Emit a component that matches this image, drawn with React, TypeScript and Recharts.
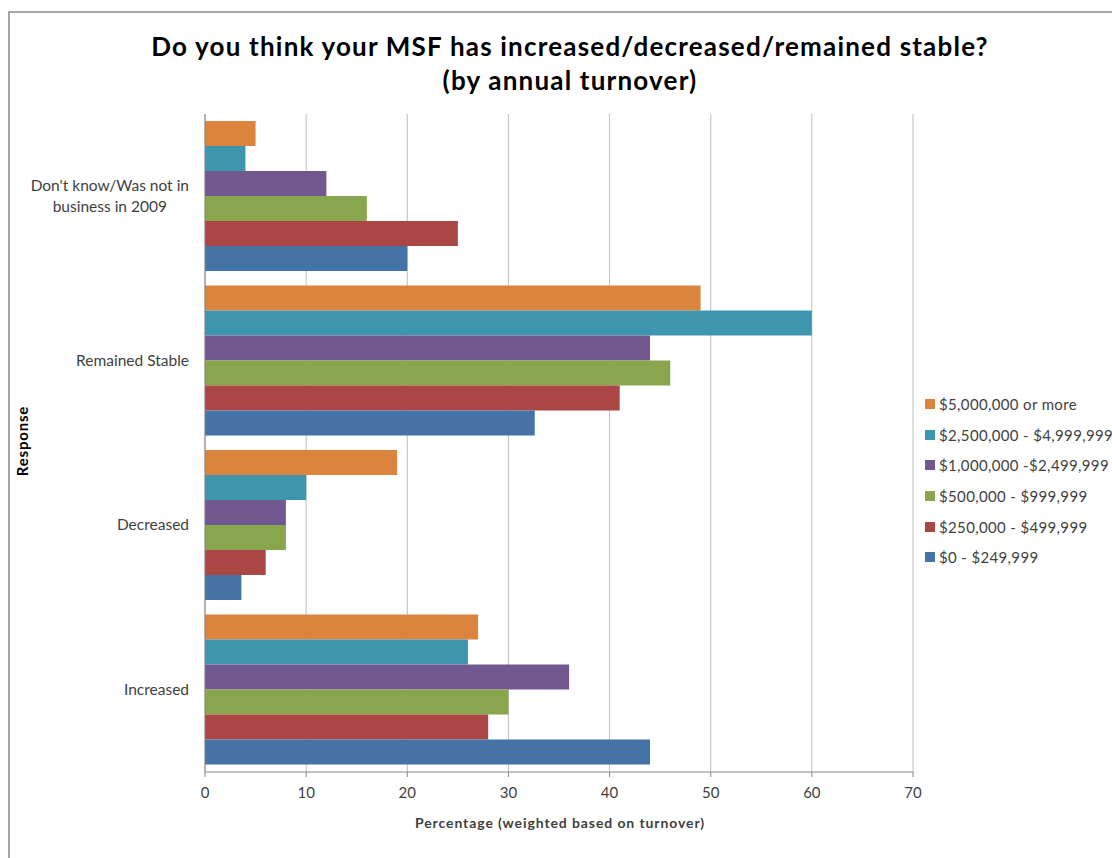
import React from "react"
import { BarChart, Bar, XAxis, YAxis, CartesianGrid } from "recharts"

const responses = ["Don't know/Was not in business in 2009", "Remained Stable", "Decreased", "Increased"]

// percentage per response, one array per turnover band
const over5m = [5, 49, 19, 27]
const from2_5m = [4, 60, 10, 26]
const from1m = [12, 44, 8, 36]
const from500k = [16, 46, 8, 30]
const from250k = [25, 41, 6, 28]
const upTo250k = [20, 32.6, 3.6, 44]

const xTicks = [0, 10, 20, 30, 40, 50, 60, 70]

const series = [
  { key: "over5m", name: "$5,000,000 or more", color: "#DB843D", values: over5m },
  { key: "from2_5m", name: "$2,500,000 - $4,999,999", color: "#3D96AE", values: from2_5m },
  { key: "from1m", name: "$1,000,000 -$2,499,999", color: "#71588F", values: from1m },
  { key: "from500k", name: "$500,000 - $999,999", color: "#89A54E", values: from500k },
  { key: "from250k", name: "$250,000 - $499,999", color: "#AA4643", values: from250k },
  { key: "upTo250k", name: "$0 - $249,999", color: "#4572A7", values: upTo250k },
]

const data = responses.map((r, i) => {
  const row: Record<string, string | number> = { response: r }
  series.forEach((s) => (row[s.key] = s.values[i]))
  return row
})

const FONT = "Lato, 'Open Sans', sans-serif"
const TEXT = "#3f3f3f"
const LABEL_SIZE = 15.5

let ctx: CanvasRenderingContext2D | null = null
function measure(text: string, font: string) {
  if (!ctx) ctx = document.createElement("canvas").getContext("2d")
  if (!ctx) return text.length * 7
  ctx.font = font
  return ctx.measureText(text).width
}

function wrap(text: string, max: number) {
  const words = text.split(" ")
  const lines: string[] = []
  let cur = ""
  words.forEach((w) => {
    const next = cur ? cur + " " + w : w
    if (next.length > max && cur) {
      lines.push(cur)
      cur = w
    } else cur = next
  })
  if (cur) lines.push(cur)
  return lines
}

function ResponseTick(props: any) {
  const { x, y, payload } = props
  const lines = wrap(String(payload.value), 22)
  const font = `${LABEL_SIZE}px ${FONT}`
  if (lines.length === 1) {
    return (
      <text x={x} y={y} dy={5} textAnchor="end" fill={TEXT} fontSize={LABEL_SIZE} fontFamily={FONT}>
        {lines[0]}
      </text>
    )
  }
  const w = Math.max(...lines.map((l) => measure(l, font)))
  const cx = x - w / 2
  const lh = 21
  const start = y - ((lines.length - 1) * lh) / 2 + 5
  return (
    <text textAnchor="middle" fill={TEXT} fontSize={LABEL_SIZE} fontFamily={FONT}>
      {lines.map((l, i) => (
        <tspan key={i} x={cx} y={start + i * lh}>
          {l}
        </tspan>
      ))}
    </text>
  )
}

function TurnoverLegend() {
  return (
    <div
      style={{
        position: "absolute",
        left: 925,
        top: 389,
        fontFamily: FONT,
        fontSize: 15,
        letterSpacing: 0.35,
        color: TEXT,
      }}
    >
      {series.map((s) => (
        <div key={s.key} style={{ display: "flex", alignItems: "center", height: 30.6, whiteSpace: "nowrap" }}>
          <span style={{ width: 10, height: 10, background: s.color, marginRight: 4, display: "inline-block" }} />
          <span>{s.name}</span>
        </div>
      ))}
    </div>
  )
}

export default function App() {
  return (
    <div style={{ position: "absolute", left: 0, top: 0, width: 1112, height: 858, background: "#fff", overflow: "hidden" }}>
      <div
        style={{
          position: "absolute",
          left: 8,
          top: 11,
          right: -4,
          bottom: -4,
          borderTop: "2px solid #a6a6a6",
          borderLeft: "2px solid #a6a6a6",
        }}
      />
      <div
        style={{
          position: "absolute",
          left: 70,
          width: 1000,
          top: 29,
          textAlign: "center",
          fontFamily: FONT,
          fontWeight: 700,
          fontSize: 26,
          letterSpacing: 1.2,
          lineHeight: "34px",
          color: "#000",
        }}
      >
        Do you think your MSF has increased/decreased/remained stable?
        <br />
        (by annual turnover)
      </div>
      <div
        style={{
          position: "absolute",
          left: 22,
          top: 441,
          transform: "translate(-50%, -50%) rotate(-90deg)",
          fontFamily: FONT,
          fontWeight: 700,
          fontSize: 15,
          letterSpacing: 0.8,
          color: "#000",
          whiteSpace: "nowrap",
        }}
      >
        Response
      </div>
      <div
        style={{
          position: "absolute",
          left: 560,
          top: 822,
          transform: "translate(-50%, -50%)",
          fontFamily: FONT,
          fontWeight: 700,
          fontSize: 14,
          letterSpacing: 0.9,
          color: TEXT,
          whiteSpace: "nowrap",
        }}
      >
        Percentage (weighted based on turnover)
      </div>
      <div style={{ position: "absolute", left: 0, top: 0 }}>
        <BarChart
          width={1112}
          height={858}
          data={data}
          layout="vertical"
          margin={{ top: 114, right: 199, bottom: 46, left: 5 }}
          barGap={0}
          barCategoryGap={7}
        >
          <CartesianGrid horizontal={false} stroke="#bfbfbf" />
          <XAxis
            type="number"
            domain={[0, 70]}
            ticks={xTicks}
            height={40}
            axisLine={{ stroke: "#868686" }}
            tickLine={{ stroke: "#868686" }}
            tickSize={5}
            tickMargin={10}
            tick={{ fill: TEXT, fontSize: 15, fontFamily: FONT }}
          />
          <YAxis
            type="category"
            dataKey="response"
            width={200}
            axisLine={{ stroke: "#868686" }}
            tickLine={false}
            tickSize={0}
            tickMargin={16}
            tick={<ResponseTick />}
          />
          {series.map((s) => (
            <Bar key={s.key} dataKey={s.key} name={s.name} fill={s.color} isAnimationActive={false} />
          ))}
        </BarChart>
      </div>
      <TurnoverLegend />
    </div>
  )
}
